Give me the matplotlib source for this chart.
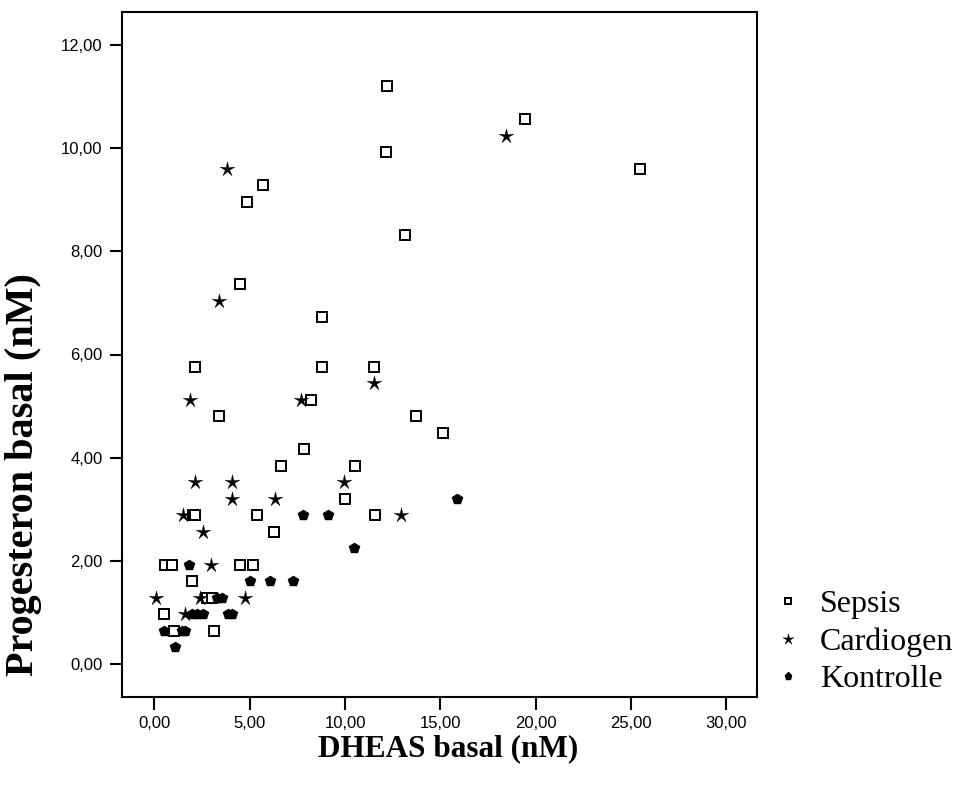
import matplotlib
matplotlib.use("Agg")
import numpy as np
import matplotlib.pyplot as plt
from matplotlib.path import Path
from matplotlib.ticker import FuncFormatter

sepsis_x = [12.2, 12.14, 5.68, 4.87, 13.12, 4.49, 8.81, 2.15, 8.81, 11.53, 19.44, 25.49,
            8.21, 3.37, 7.85, 6.64, 10.52, 9.97, 2.0, 2.12, 5.36, 6.25, 13.73, 15.11, 11.58,
            0.58, 0.91, 4.47, 5.17, 1.97, 2.76, 3.02, 0.52, 1.05, 3.14]
sepsis_y = [11.2, 9.92, 9.28, 8.96, 8.32, 7.36, 6.72, 5.76, 5.76, 5.76, 10.56, 9.6,
            5.12, 4.80, 4.16, 3.84, 3.84, 3.20, 2.88, 2.88, 2.88, 2.56, 4.80, 4.48, 2.88,
            1.92, 1.92, 1.92, 1.92, 1.60, 1.28, 1.28, 0.96, 0.64, 0.64]

cardio_x = [3.83, 3.39, 18.45, 1.87, 7.67, 11.53, 2.13, 4.09, 9.92, 4.09, 6.32, 1.48,
            12.95, 2.55, 2.97, 0.1, 2.37, 4.73, 1.59]
cardio_y = [9.6, 7.04, 10.24, 5.12, 5.12, 5.44, 3.52, 3.52, 3.52, 3.20, 3.20, 2.88,
            2.88, 2.56, 1.92, 1.28, 1.28, 1.28, 0.96]

kontr_x = [7.81, 9.1, 10.47, 15.86, 1.83, 5.0, 6.08, 7.25, 3.28, 3.55, 1.97, 2.24,
           2.55, 3.85, 4.05, 0.52, 1.45, 1.62, 1.1]
kontr_y = [2.88, 2.88, 2.24, 3.20, 1.92, 1.60, 1.60, 1.60, 1.28, 1.28, 0.96, 0.96,
           0.96, 0.96, 0.96, 0.64, 0.64, 0.64, 0.32]

groups = ["Sepsis", "Cardiogen", "Kontrolle"]
x_ticks = [0, 5, 10, 15, 20, 25, 30]
y_ticks = [0, 2, 4, 6, 8, 10, 12]

# thin five-pointed star marker
ang = np.pi / 2 + np.arange(10) * np.pi / 5
rad = np.where(np.arange(10) % 2 == 0, 1.0, 0.3)
verts = np.column_stack([rad * np.cos(ang), rad * np.sin(ang)])
verts = np.vstack([verts, verts[:1]])
codes = [Path.MOVETO] + [Path.LINETO] * 9 + [Path.CLOSEPOLY]
thin_star = Path(verts, codes)

fig = plt.figure(figsize=(9.56, 7.89), dpi=100)
ax = fig.add_axes([122/956, 1-697/789, (757-122)/956, (697-12)/789])

h1, = ax.plot(sepsis_x, sepsis_y, linestyle="none", marker="s", markersize=6.5,
              markerfacecolor="white", markeredgecolor="black", markeredgewidth=1.4, label=groups[0])
h2, = ax.plot(cardio_x, cardio_y, linestyle="none", marker=thin_star, markersize=11,
              markerfacecolor="black", markeredgecolor="black", markeredgewidth=0.3, label=groups[1])
h3, = ax.plot(kontr_x, kontr_y, linestyle="none", marker="p", markersize=7,
              markerfacecolor="black", markeredgecolor="black", label=groups[2])

ax.set_xlim(-1.7, 31.6)
ax.set_ylim(-0.64, 12.64)
ax.set_xticks(x_ticks)
ax.set_yticks(y_ticks)
fmt = FuncFormatter(lambda v, p: f"{v:.2f}".replace(".", ","))
ax.xaxis.set_major_formatter(fmt)
ax.yaxis.set_major_formatter(fmt)
ax.tick_params(direction="out", length=9, width=1.5, labelsize=12, pad=5)
for lab in ax.get_xticklabels() + ax.get_yticklabels():
    lab.set_family("Liberation Sans")
for s in ax.spines.values():
    s.set_linewidth(1.5)

ax.set_xlabel("DHEAS basal (nM)", family="Liberation Serif", fontweight="bold", fontsize=22.5)
ax.set_ylabel("Progesteron basal (nM)", family="Liberation Serif", fontweight="bold", fontsize=29)
ax.xaxis.set_label_coords((448-122)/635, -(734-697)/685)
ax.yaxis.set_label_coords(-(122-42)/635, (697-475)/685)

leg = fig.legend(handles=[h1, h2, h3], loc="center left", bbox_to_anchor=(775/956, 1-642/789),
                 frameon=False, prop={"family": "Liberation Serif", "size": 23},
                 markerscale=0.75, handlelength=0.8, handletextpad=0.6, labelspacing=0.25,
                 borderaxespad=0, borderpad=0)

fig.savefig("out.png", dpi=100)
